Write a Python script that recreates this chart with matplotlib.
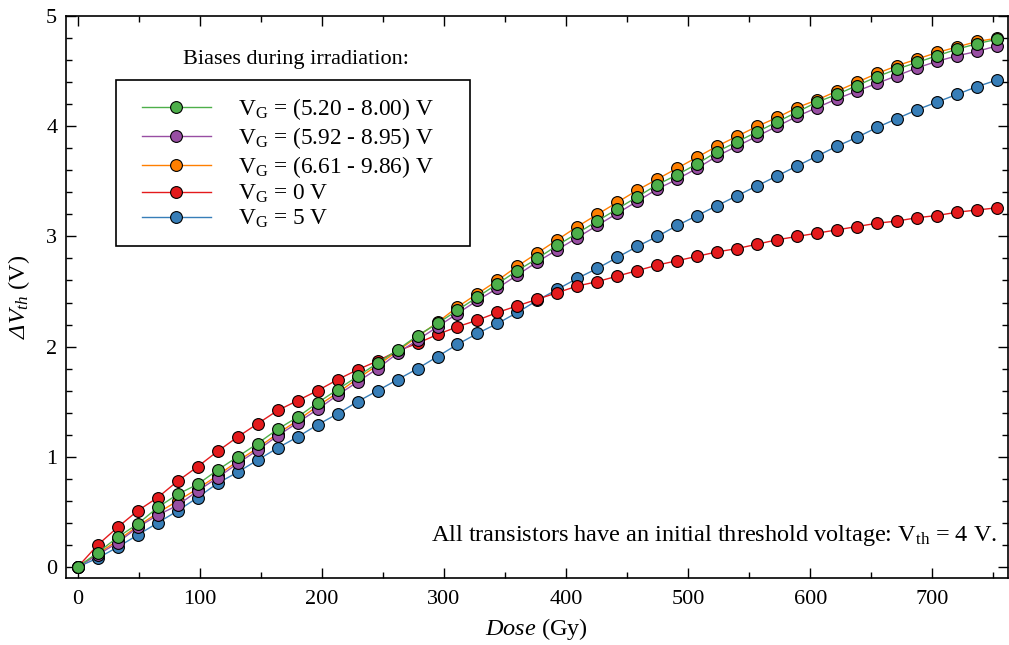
import matplotlib
matplotlib.use("Agg")
import matplotlib.pyplot as plt
from matplotlib.patches import Rectangle

plt.rcParams['font.family'] = ['Liberation Serif', 'DejaVu Serif']
plt.rcParams['mathtext.fontset'] = 'custom'
plt.rcParams['mathtext.rm'] = 'Liberation Serif'
plt.rcParams['mathtext.it'] = 'Liberation Serif:italic'
plt.rcParams['mathtext.bf'] = 'Liberation Serif:bold'
plt.rcParams['mathtext.sf'] = 'Liberation Serif:italic'

dose = [0.0, 16.4, 32.7, 49.1, 65.5, 81.9, 98.2, 114.6, 131.0, 147.3, 163.7,
        180.1, 196.4, 212.8, 229.2, 245.6, 261.9, 278.3, 294.7, 311.0, 327.4,
        343.8, 360.1, 376.5, 392.9, 409.3, 425.6, 442.0, 458.4, 474.7, 491.1,
        507.5, 523.8, 540.2, 556.6, 573.0, 589.3, 605.7, 622.1, 638.4, 654.8,
        671.2, 687.5, 703.9, 720.3, 736.7, 753.0]

vg_520_800 = [0, 0.13, 0.27, 0.39, 0.54, 0.66, 0.75, 0.88, 1.00, 1.12, 1.25,
              1.36, 1.49, 1.61, 1.73, 1.85, 1.97, 2.10, 2.21, 2.33, 2.45,
              2.57, 2.69, 2.80, 2.92, 3.03, 3.14, 3.25, 3.36, 3.47, 3.56,
              3.66, 3.77, 3.86, 3.95, 4.04, 4.13, 4.22, 4.29, 4.37, 4.45,
              4.52, 4.58, 4.64, 4.70, 4.75, 4.79]
vg_592_895 = [0, 0.11, 0.22, 0.36, 0.47, 0.56, 0.69, 0.81, 0.94, 1.06, 1.19,
              1.31, 1.43, 1.56, 1.68, 1.80, 1.94, 2.06, 2.18, 2.30, 2.42,
              2.53, 2.65, 2.77, 2.88, 2.99, 3.10, 3.21, 3.32, 3.43, 3.52,
              3.62, 3.73, 3.82, 3.91, 4.00, 4.09, 4.17, 4.25, 4.32, 4.39,
              4.46, 4.53, 4.59, 4.64, 4.68, 4.73]
vg_661_986 = [0, 0.12, 0.24, 0.37, 0.49, 0.60, 0.71, 0.83, 0.96, 1.08, 1.21,
              1.33, 1.46, 1.58, 1.71, 1.83, 1.96, 2.09, 2.22, 2.36, 2.48,
              2.60, 2.73, 2.85, 2.97, 3.09, 3.20, 3.31, 3.42, 3.52, 3.62,
              3.72, 3.82, 3.91, 4.00, 4.08, 4.17, 4.24, 4.32, 4.40, 4.48,
              4.55, 4.61, 4.67, 4.72, 4.77, 4.80]
vg_0 = [0, 0.20, 0.36, 0.51, 0.63, 0.78, 0.91, 1.05, 1.18, 1.30, 1.42,
        1.51, 1.60, 1.70, 1.79, 1.87, 1.96, 2.03, 2.11, 2.18, 2.24,
        2.31, 2.37, 2.43, 2.49, 2.55, 2.59, 2.64, 2.69, 2.74, 2.78,
        2.82, 2.86, 2.89, 2.93, 2.97, 3.00, 3.03, 3.06, 3.09, 3.12,
        3.14, 3.17, 3.19, 3.22, 3.24, 3.26]
vg_5 = [0, 0.08, 0.18, 0.29, 0.40, 0.51, 0.63, 0.76, 0.86, 0.97, 1.08,
        1.18, 1.29, 1.39, 1.50, 1.60, 1.70, 1.80, 1.91, 2.02, 2.12,
        2.21, 2.31, 2.42, 2.52, 2.62, 2.71, 2.81, 2.91, 3.00, 3.10,
        3.19, 3.28, 3.37, 3.46, 3.55, 3.64, 3.73, 3.82, 3.90, 3.99,
        4.07, 4.15, 4.22, 4.29, 4.36, 4.42]

labels = [r"V$_{\mathrm{G}}$ = (5.20 - 8.00) V",
          r"V$_{\mathrm{G}}$ = (5.92 - 8.95) V",
          r"V$_{\mathrm{G}}$ = (6.61 - 9.86) V",
          r"V$_{\mathrm{G}}$ = 0 V",
          r"V$_{\mathrm{G}}$ = 5 V"]
colors = ['#4daf4a', '#984ea3', '#ff7f00', '#e41a1c', '#377eb8']
series = [vg_520_800, vg_592_895, vg_661_986, vg_0, vg_5]
zorders = [7, 6, 5, 4, 3]

fig = plt.figure(figsize=(10.09, 6.45), dpi=100)
ax = fig.add_axes([0.065, 0.104, 0.934, 0.871])

handles = []
for y, c, lab, z in zip(series, colors, labels, zorders):
    h, = ax.plot(dose, y, '-o', color=c, lw=1.0, ms=8.5, mfc=c, mec='black',
                 mew=0.8, label=lab, zorder=z)
    handles.append(h)

ax.set_xlim(-10, 762)
ax.set_ylim(-0.1, 5.0)
ax.set_xticks([0, 100, 200, 300, 400, 500, 600, 700])
ax.set_xticks(range(50, 760, 100), minor=True)
ax.set_yticks([0, 1, 2, 3, 4, 5])
ax.set_yticks([v / 5 for v in range(0, 26) if v % 5 != 0], minor=True)
ax.tick_params(which='both', direction='in', top=True, right=True,
               labelsize=16, width=1.0)
ax.tick_params(axis='x', which='both', pad=9)
ax.tick_params(axis='y', which='both', pad=6)
ax.tick_params(which='major', length=7)
ax.tick_params(which='minor', length=4)
for s in ax.spines.values():
    s.set_linewidth(1.2)

ax.set_xlabel(r"$\mathit{Dose}$ (Gy)", fontsize=17.5, labelpad=5)
ax.set_ylabel(r"$\mathsf{Δ}\mathit{V}_{\mathit{th}}$ (V)", fontsize=17.5,
              labelpad=10)

rect = Rectangle((0.0535, 0.5913), 0.3757, 0.2954, transform=ax.transAxes,
                 fill=True, facecolor='white', edgecolor='black', lw=1.2,
                 zorder=10)
ax.add_patch(rect)
leg = ax.legend(handles=handles, loc='upper left', bbox_to_anchor=(0.081, 0.857),
                frameon=False, fontsize=16.8, handlelength=2.95,
                handletextpad=1.15, labelspacing=0.12, borderaxespad=0,
                borderpad=0)
leg.set_zorder(11)

ax.text(0.2445, 0.922, "Biases during irradiation:", transform=ax.transAxes,
        ha='center', va='center', fontsize=16, zorder=11)

ax.text(0.989, 0.0665,
        r"All transistors have an initial threshold voltage: V$_{\mathrm{th}}$ = 4 V.",
        transform=ax.transAxes, ha='right', va='baseline', fontsize=17.5)

fig.savefig('out.png', dpi=100)
